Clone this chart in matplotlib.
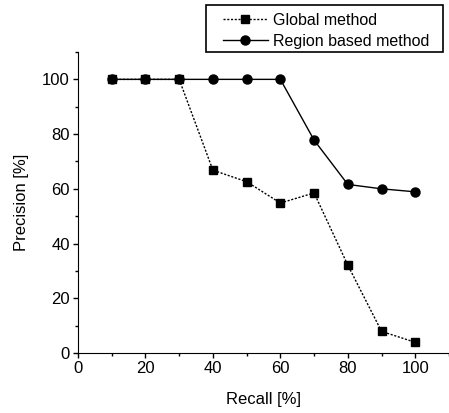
import matplotlib
matplotlib.use("Agg")
import matplotlib.pyplot as plt
from matplotlib.ticker import MultipleLocator
from matplotlib.patches import Rectangle

plt.rcParams['font.family'] = ['Liberation Sans', 'DejaVu Sans']

recall = [10, 20, 30, 40, 50, 60, 70, 80, 90, 100]
global_prec = [100, 100, 100, 66.8, 62.6, 54.8, 58.5, 32.1, 7.9, 3.9]
region_prec = [100, 100, 100, 100, 100, 100, 77.8, 61.6, 60.0, 58.9]

W, H = 449, 413
fig = plt.figure(figsize=(W / 100, H / 100), dpi=100)
ax = fig.add_axes([78 / W, 1 - 353 / H, 1 - 78 / W, (353 - 52) / H])

l2, = ax.plot(recall, region_prec, '-', color='black', lw=1.0, marker='o',
              markersize=6.5, label='Region based method', zorder=2)
l1, = ax.plot(recall, global_prec, linestyle=(0, (1.5, 1.2)), color='black', lw=1.0,
              marker='s', markersize=5.5, label='Global method', zorder=3)

ax.set_xlim(0, 110)
ax.set_ylim(0, 110)
ax.set_xticks([0, 20, 40, 60, 80, 100])
ax.set_yticks([0, 20, 40, 60, 80, 100])
ax.xaxis.set_minor_locator(MultipleLocator(10))
ax.yaxis.set_minor_locator(MultipleLocator(10))
ax.spines['top'].set_visible(False)
ax.spines['right'].set_visible(False)
ax.tick_params(which='major', direction='out', length=3.5, width=1, labelsize=12, pad=2.5)
ax.tick_params(which='minor', direction='out', length=2.5, width=1)
ax.set_xlabel('Recall [%]', fontsize=12, labelpad=11)
ax.set_ylabel('Precision [%]', fontsize=12, labelpad=9)

# legend box
fig.patches.append(Rectangle((206 / W, 1 - 52 / H), 237 / W, 47 / H,
                             transform=fig.transFigure, fill=False,
                             edgecolor='black', linewidth=1.2))
leg = fig.legend(handles=[l1, l2], loc='upper left',
                 bbox_to_anchor=(215 / W, 1 - 5 / H),
                 fontsize=11.5, frameon=False,
                 handlelength=2.8, borderpad=0, labelspacing=0.38, handletextpad=0.35)

fig.savefig('out.png', dpi=100)
